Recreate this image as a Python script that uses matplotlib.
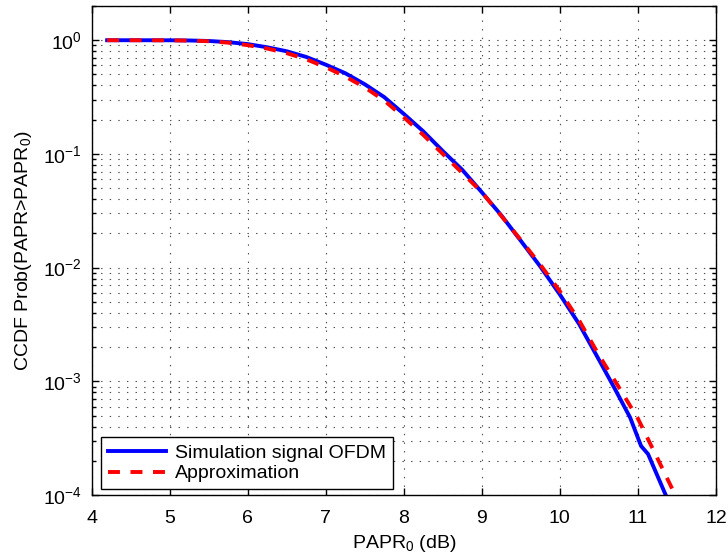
import numpy as np
import matplotlib
matplotlib.use("Agg")
import matplotlib.pyplot as plt
from matplotlib.ticker import LogLocator, NullFormatter, FixedLocator

plt.rcParams['font.family'] = ['Liberation Sans', 'DejaVu Sans']
plt.rcParams['mathtext.fontset'] = 'custom'
plt.rcParams['mathtext.rm'] = 'Liberation Sans'
plt.rcParams['mathtext.it'] = 'Liberation Sans:italic'
plt.rcParams['mathtext.bf'] = 'Liberation Sans:bold'
plt.rcParams['lines.scale_dashes'] = False

# Simulated CCDF (blue solid)
sim_x = [4.2, 4.5, 5.0, 5.25, 5.5, 5.75, 6.0, 6.25, 6.5, 6.75, 7.0, 7.25,
         7.5, 7.75, 8.0, 8.25, 8.5, 8.75, 9.0, 9.25, 9.5, 9.75, 10.0, 10.25,
         10.5, 10.7, 10.9, 11.04, 11.13, 11.4]
sim_y = [1.0, 1.0, 0.999, 0.995, 0.985, 0.962, 0.925, 0.867, 0.80, 0.713,
         0.61, 0.513, 0.41, 0.316, 0.225, 0.158, 0.106, 0.0724, 0.046,
         0.0288, 0.0172, 0.0102, 0.0058, 0.00316, 0.00155, 0.00087, 0.00048,
         0.00027, 0.000229, 0.000085]

# Approximation (red dashed)
app_x = [4.2, 4.5, 5.0, 5.25, 5.5, 5.75, 6.0, 6.25, 6.5, 6.75, 7.0, 7.25,
         7.5, 7.75, 8.0, 8.25, 8.5, 8.75, 9.0, 9.25, 9.5, 9.75, 10.0, 10.25,
         10.5, 10.75, 11.0, 11.25, 11.5]
app_y = [1.0, 1.0, 0.998, 0.993, 0.98, 0.952, 0.905, 0.845, 0.77, 0.68,
         0.58, 0.48, 0.385, 0.295, 0.21, 0.147, 0.100, 0.068, 0.046, 0.0285,
         0.0175, 0.0106, 0.0062, 0.0034, 0.0017, 0.00090, 0.00047, 0.00021,
         0.000093]

x_ticks = [4, 5, 6, 7, 8, 9, 10, 11, 12]
labels = ['Simulation signal OFDM', 'Approximation']

fig = plt.figure(figsize=(7.28, 5.56), dpi=100)
ax = fig.add_axes([0.1257, 0.1097, 0.8578, 0.8795])

ax.semilogy(sim_x, sim_y, color='#0000ff', lw=2.8, label=labels[0])
ax.semilogy(app_x, app_y, color='#ff0000', lw=2.8, dashes=(8.6, 7.6),
            label=labels[1])

ax.set_xlim(4, 12)
ax.set_ylim(1e-4, 2)
ax.xaxis.set_major_locator(FixedLocator(x_ticks))
ax.set_xticklabels([str(t) for t in x_ticks])
ax.yaxis.set_major_locator(LogLocator(base=10, numticks=10))
ax.yaxis.set_minor_locator(LogLocator(base=10, subs=np.arange(2, 10), numticks=20))
ax.yaxis.set_minor_formatter(NullFormatter())

ax.tick_params(which='both', direction='in', top=True, right=True,
               labelsize=14, width=1.0)
ax.tick_params(which='major', length=5, pad=7)
ax.tick_params(which='minor', length=3)
ax.tick_params(axis='x', pad=11)

grid_kw = dict(color='0.3', lw=0.8, linestyle=(0, (1.0, 5.2)))
ax.xaxis.grid(True, which='major', **grid_kw)
ax.yaxis.grid(True, which='both', **grid_kw)

for s in ax.spines.values():
    s.set_linewidth(1.0)

ax.set_xlabel(r'PAPR$_0$ (dB)', fontsize=14, labelpad=4)
ax.set_ylabel(r'CCDF Prob(PAPR>PAPR$_0$)', fontsize=14, labelpad=6)

leg = ax.legend(loc='lower left', bbox_to_anchor=(0.015, 0.012),
                borderaxespad=0, fontsize=14, handlelength=3.0,
                handletextpad=0.45, borderpad=0.35, labelspacing=0.15,
                fancybox=False, framealpha=1, edgecolor='black')
leg.get_frame().set_linewidth(1.0)

fig.savefig('out.png', dpi=100)
